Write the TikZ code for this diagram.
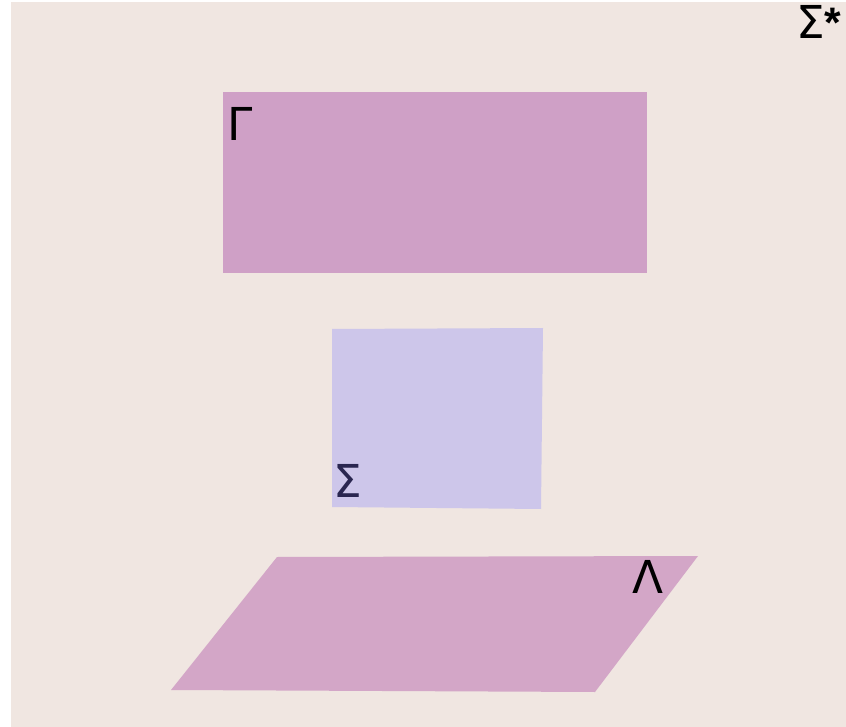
\documentclass[tikz,border=0pt]{standalone}
\usepackage{fontspec}
\setmainfont{DejaVu Sans}
\newfontfamily\starfont{Liberation Sans}
\usetikzlibrary{positioning}
\definecolor{Paper}   {HTML}{F0E6E1}
\definecolor{Orchid}  {HTML}{CFA0C6}
\definecolor{Lilac}   {HTML}{CDC6EA}
\definecolor{Mauve}   {HTML}{D3A6C7}
\definecolor{Ink}     {HTML}{000000}
\definecolor{Navy}    {HTML}{2A2650}

\begin{document}
\begin{tikzpicture}[
  x=0.75pt, y=-0.75pt,
  every node/.style={font=\fontsize{34}{36}\selectfont, inner sep=0pt},
  lbl/.style={anchor=base west, text=Ink},
]
  \useasboundingbox (0,0) rectangle (846,727);
  % backdrop
  \fill[Paper] (11,2) rectangle (846,727);
  % the three sets
  \fill[Orchid] (223,92) rectangle (647,273);
  \fill[Lilac]  (332,329) -- (543,328) -- (541,509) -- (332,507) -- cycle;
  \fill[Mauve]  (277,557) -- (698,556) -- (595,692) -- (171,690) -- cycle;
  % labels
  \node[lbl] (gamma) at (227,141) {Γ};
  \node[lbl, text=Navy] (sigma) at (333,497) {Σ};
  \node[lbl] (lambda) at (632,593) {Λ};
  \node[lbl] (sigstar) at (796,39) {Σ\raisebox{1pt}{\starfont\bfseries\fontsize{32}{34}\selectfont *}};
\end{tikzpicture}
\end{document}
